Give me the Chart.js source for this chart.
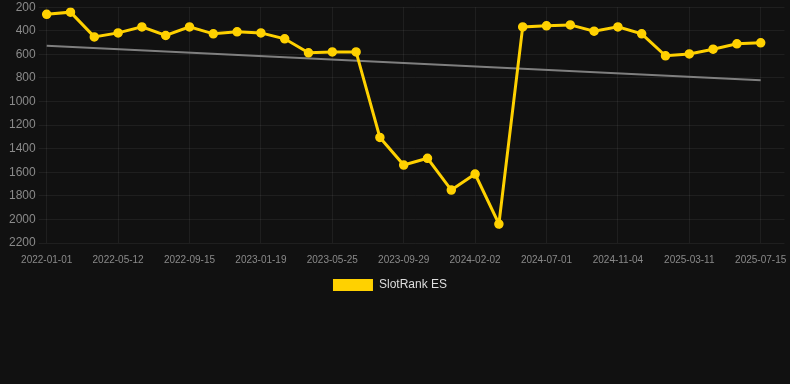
<!DOCTYPE html>
<html>
<head>
<meta charset="utf-8">
<script src="https://cdn.jsdelivr.net/npm/chart.js@4.4.0/dist/chart.umd.min.js"></script>
<style>
html,body{margin:0;padding:0;background:#111111;}
#wrap{width:790px;height:384px;position:relative;overflow:hidden;}
#c{position:absolute;left:0;top:-3px;}
</style>
</head>
<body>
<div id="wrap"><canvas id="c" width="790" height="387"></canvas></div>
<script>
const dates = [
  "2022-01-01","2022-02-14","2022-03-29","2022-05-12","2022-06-24","2022-08-05",
  "2022-09-15","2022-10-27","2022-12-08","2023-01-19","2023-03-02","2023-04-13",
  "2023-05-25","2023-07-07","2023-08-18","2023-09-29","2023-11-10","2023-12-22",
  "2024-02-02","2024-03-22","2024-05-11","2024-07-01","2024-08-12","2024-09-23",
  "2024-11-04","2024-12-16","2025-01-27","2025-03-11","2025-04-22","2025-06-03",
  "2025-07-15",""
];
const rankES = [
  260,242,452,418,367,440,367,426,409,418,468,587,579,579,1305,
  1539,1482,1751,1615,2039,367,358,350,403,367,426,612,596,556,511,502
];
const trend = [528,null,null,null,null,null,null,null,null,null,null,null,null,null,null,
  null,null,null,null,null,null,null,null,null,null,null,null,null,null,null,819];
const yTicks = [200,400,600,800,1000,1200,1400,1600,1800,2000,2200];

const legendShift = {
  id: 'legendShift',
  afterLayout(chart) {
    if (chart.legend) { chart.legend.left -= 8; chart.legend.right -= 8; }
  }
};

new Chart(document.getElementById('c'), {
  type: 'line',
  plugins: [legendShift],
  data: {
    labels: dates,
    datasets: [
      {
        label: 'SlotRank ES',
        data: rankES,
        borderColor: '#FFD100',
        backgroundColor: '#FFD100',
        borderWidth: 3,
        pointRadius: 4,
        pointBorderWidth: 1.5,
        pointHoverRadius: 4,
        pointBackgroundColor: '#FFD100',
        pointBorderColor: '#FFD100',
        tension: 0
      },
      {
        label: 'trend',
        data: trend,
        borderColor: 'rgba(140,140,140,0.9)',
        borderWidth: 2,
        pointRadius: 0,
        spanGaps: true,
        tension: 0
      }
    ]
  },
  options: {
    responsive: false,
    animation: false,
    layout: { padding: { left: 6, right: 0, top: 0, bottom: 83 } },
    plugins: {
      legend: {
        position: 'bottom',
        labels: {
          color: '#dddddd',
          font: { family: 'Liberation Sans, Arial, sans-serif', size: 12 },
          boxWidth: 40,
          boxHeight: 12,
          filter: (item) => item.text !== 'trend',
          generateLabels: (chart) => Chart.defaults.plugins.legend.labels.generateLabels(chart)
            .map(it => Object.assign(it, { lineWidth: 0, strokeStyle: 'rgba(0,0,0,0)' }))
        }
      },
      tooltip: { enabled: false }
    },
    scales: {
      x: {
        type: 'category',
        grid: {
          color: (ctx) => (ctx.index % 3 === 0 && ctx.index < 31) ? 'rgba(255,255,255,0.06)' : 'rgba(0,0,0,0)',
          tickColor: 'rgba(0,0,0,0)'
        },
        border: { display: false },
        ticks: {
          autoSkip: false,
          maxRotation: 0,
          color: '#8a8a8a',
          font: { family: 'Liberation Sans, Arial, sans-serif', size: 10 },
          callback: function(v, i) { return (i % 3 === 0 && i < 31) ? dates[i] : ''; }
        }
      },
      y: {
        reverse: true,
        min: 200,
        max: 2200,
        afterBuildTicks: (axis) => { axis.ticks = yTicks.map(v => ({ value: v })); },
        grid: { color: 'rgba(255,255,255,0.06)' },
        border: { display: false },
        ticks: {
          color: '#8a8a8a',
          font: { family: 'Liberation Sans, Arial, sans-serif', size: 12 },
          callback: (v) => String(v)
        }
      }
    }
  }
});
</script>
</body>
</html>
